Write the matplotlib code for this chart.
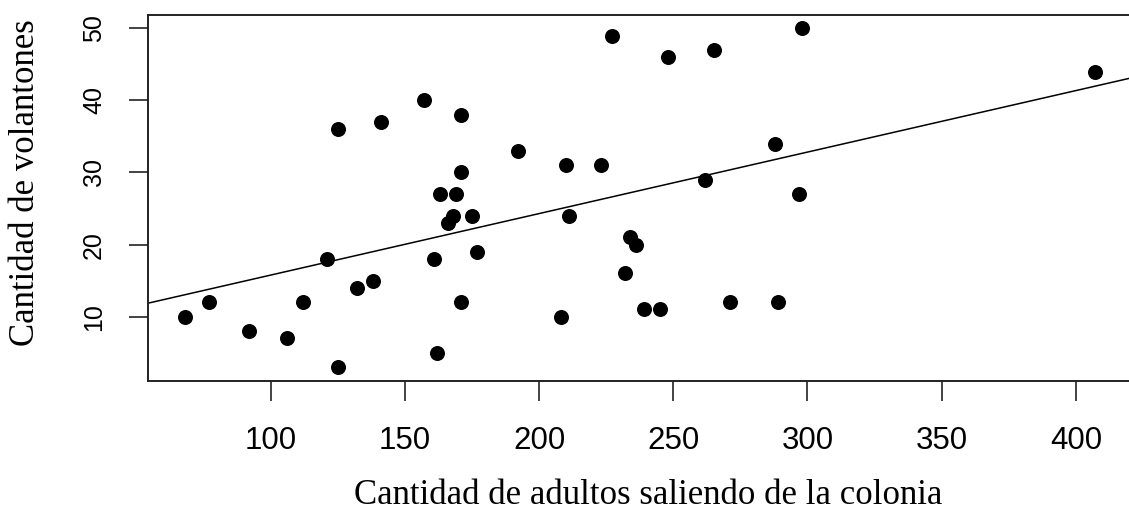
import matplotlib
matplotlib.use("Agg")
import matplotlib.pyplot as plt

# adultos saliendo de la colonia vs volantones
adultos = [68, 77, 92, 106, 112, 125, 125, 121, 132, 138, 141, 157, 171, 171, 163,
           169, 168, 166, 175, 161, 177, 171, 162, 192, 208, 210, 211, 223, 227, 248,
           265, 298, 407, 288, 262, 297, 234, 236, 232, 239, 245, 271, 289]
volantones = [10, 12, 8, 7, 12, 3, 36, 18, 14, 15, 37, 40, 38, 30, 27,
              27, 24, 23, 24, 18, 19, 12, 5, 33, 10, 31, 24, 31, 49, 46,
              47, 50, 44, 34, 29, 27, 21, 20, 16, 11, 11, 12, 12]

# recta ajustada
fit_intercept = 7.24
fit_slope = 0.0853

x_ticks = [100, 150, 200, 250, 300, 350, 400]
y_ticks = [10, 20, 30, 40, 50]

fig = plt.figure(figsize=(11.29, 5.12), dpi=100)
ax = fig.add_axes([0.1314, 0.2564, 0.8704, 0.7148])

ax.plot(adultos, volantones, "o", color="black", markersize=10.8, markeredgewidth=0)
ax.axline((0, fit_intercept), slope=fit_slope, color="black", linewidth=1.1)

# limites estilo R (4% extra)
xr = max(adultos) - min(adultos)
yr = max(volantones) - min(volantones)
ax.set_xlim(min(adultos) - 0.04 * xr, max(adultos) + 0.04 * xr)
ax.set_ylim(min(volantones) - 0.04 * yr, max(volantones) + 0.04 * yr)

ax.set_xticks(x_ticks)
ax.set_yticks(y_ticks)
ax.set_xticklabels([str(t) for t in x_ticks], family="Liberation Sans", fontsize=22.5)
ax.set_yticklabels([str(t) for t in y_ticks], family="Liberation Sans", fontsize=18,
                   rotation=90, va="center")
ax.tick_params(axis="x", length=14.5, width=1.2, pad=18, color="#222222")
ax.tick_params(axis="y", length=14, width=1.2, pad=16.5, color="#222222")

for sp in ax.spines.values():
    sp.set_linewidth(1.4)
    sp.set_color("#222222")

ax.set_xlabel("Cantidad de adultos saliendo de la colonia", family="Liberation Serif",
              fontsize=25, va="baseline")
ax.xaxis.set_label_coords(0.5085, -0.337)
ax.set_ylabel("Cantidad de volantones", family="Liberation Serif", fontsize=25,
              va="center")
ax.yaxis.set_label_coords(-0.1255, 0.54)

fig.savefig("out.png", dpi=100)
